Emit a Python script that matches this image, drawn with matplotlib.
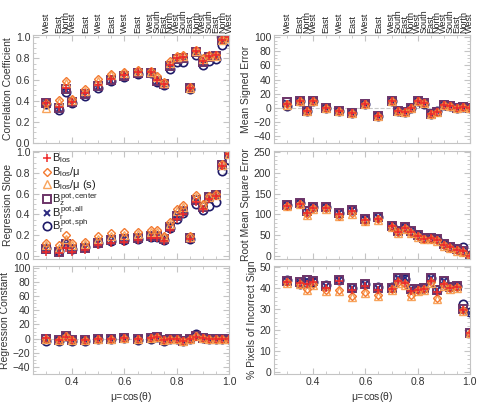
import matplotlib
matplotlib.use('Agg')
import matplotlib.pyplot as plt
from matplotlib.ticker import MultipleLocator
import matplotlib.transforms as mtransforms

plt.rcParams['font.family'] = ['Liberation Sans', 'DejaVu Sans']
plt.rcParams['mathtext.fontset'] = 'custom'
plt.rcParams['mathtext.rm'] = 'Liberation Sans'
plt.rcParams['mathtext.it'] = 'Liberation Sans'
plt.rcParams['mathtext.bf'] = 'Liberation Sans:bold'

# observing positions (mu) and their limb labels
mu = [0.3, 0.35, 0.375, 0.4, 0.45, 0.5, 0.55, 0.6, 0.65, 0.7, 0.725, 0.75,
      0.775, 0.8, 0.825, 0.85, 0.875, 0.9, 0.925, 0.95, 0.975, 1.0]
pos_labels = ['West', 'East', 'North', 'West', 'East', 'West', 'East', 'West', 'East',
              'West', 'South', 'East', 'North', 'West', 'South', 'East', 'North', 'West',
              'South', 'East', 'North', 'West']

series_names = [r'$B_{\rm los}$', r'$B_{\rm los}/\mu$', r'$B_{\rm los}/\mu$ (s)',
                r'$B_z^{\rm pot,center}$', r'$B_r^{\rm pot,all}$', r'$B_r^{\rm pot,sph}$']

# Correlation coefficient
cc_los = [0.38, 0.34, 0.52, 0.39, 0.47, 0.55, 0.61, 0.64, 0.67, 0.67, 0.60, 0.56, 0.74, 0.80, 0.81, 0.52, 0.87, 0.78, 0.82, 0.83, 0.97, 1.00]
cc_mu = [0.38, 0.41, 0.59, 0.42, 0.51, 0.61, 0.65, 0.67, 0.69, 0.68, 0.63, 0.58, 0.78, 0.82, 0.83, 0.53, 0.88, 0.80, 0.83, 0.83, 0.98, 1.00]
cc_mus = [0.33, 0.39, 0.57, 0.41, 0.49, 0.59, 0.64, 0.66, 0.68, 0.67, 0.62, 0.57, 0.76, 0.81, 0.82, 0.52, 0.87, 0.79, 0.82, 0.82, 0.97, 0.99]
cc_z = [0.38, 0.33, 0.51, 0.39, 0.46, 0.54, 0.60, 0.63, 0.66, 0.66, 0.59, 0.56, 0.73, 0.79, 0.80, 0.52, 0.86, 0.77, 0.81, 0.82, 0.97, 1.00]
cc_rall = [0.37, 0.32, 0.50, 0.38, 0.45, 0.53, 0.59, 0.62, 0.65, 0.66, 0.58, 0.55, 0.72, 0.78, 0.79, 0.51, 0.85, 0.76, 0.80, 0.81, 0.96, 0.98]
cc_rsph = [0.37, 0.31, 0.48, 0.38, 0.44, 0.52, 0.59, 0.62, 0.65, 0.66, 0.58, 0.55, 0.70, 0.77, 0.77, 0.51, 0.83, 0.74, 0.78, 0.79, 0.93, 0.96]

# Regression slope
rs_los = [0.04, 0.03, 0.08, 0.04, 0.06, 0.10, 0.12, 0.13, 0.15, 0.17, 0.17, 0.14, 0.25, 0.36, 0.40, 0.16, 0.52, 0.45, 0.55, 0.58, 0.87, 0.98]
rs_mu = [0.12, 0.10, 0.20, 0.12, 0.13, 0.19, 0.22, 0.23, 0.23, 0.25, 0.25, 0.19, 0.33, 0.45, 0.49, 0.19, 0.59, 0.50, 0.58, 0.60, 0.89, 0.99]
rs_mus = [0.10, 0.08, 0.16, 0.10, 0.11, 0.16, 0.19, 0.20, 0.21, 0.23, 0.23, 0.18, 0.31, 0.43, 0.47, 0.18, 0.57, 0.49, 0.57, 0.59, 0.88, 0.98]
rs_z = [0.07, 0.04, 0.11, 0.07, 0.08, 0.12, 0.15, 0.16, 0.17, 0.19, 0.19, 0.16, 0.28, 0.38, 0.43, 0.17, 0.54, 0.47, 0.57, 0.59, 0.88, 0.98]
rs_rall = [0.07, 0.05, 0.11, 0.07, 0.08, 0.12, 0.14, 0.16, 0.17, 0.19, 0.19, 0.16, 0.28, 0.38, 0.43, 0.17, 0.53, 0.46, 0.56, 0.58, 0.86, 0.96]
rs_rsph = [0.08, 0.05, 0.11, 0.07, 0.09, 0.12, 0.14, 0.15, 0.16, 0.18, 0.18, 0.15, 0.27, 0.36, 0.41, 0.16, 0.50, 0.44, 0.48, 0.52, 0.82, 0.92]

# Regression constant
rc_los = [1, -2, 2, -2, -2, 0, 0, 1, -1, 1, 2, -2, 0, -1, -3, 0, 2, 1, -1, 0, 0, -1]
rc_mu = [-1, -2, 3, -2, -2, 0, 0, 1, -1, 1, 2, -2, 0, -1, -3, 0, 3, 1, -1, 0, 0, -1]
rc_mus = [-1, -2, 3, -2, -2, 0, 0, 1, -1, 1, 2, -2, 0, -1, -3, 0, 3, 1, -1, 0, 0, -1]
rc_z = [-1, -2, 3, -2, -2, 0, 0, 1, -1, 1, 2, -2, 0, -1, -3, 0, 3, 1, -1, 0, 0, -1]
rc_rall = [-2, -2, 3, -2, -2, 0, 0, 1, -1, 1, 2, -2, 0, -1, -3, 0, 4, 1, -1, 0, 0, -1]
rc_rsph = [-3, -3, 4, -3, -3, -1, 0, 1, -2, 0, 2, -3, 0, -1, -4, -1, 6, 1, -1, 0, 0, -1]

# Mean signed error
ms_los = [5, 9, -5, 10, 0, -4, -7, 6, -11, 9, -4, -6, -1, 9, 7, -9, -6, 4, 2, -1, 1, 0]
ms_mu = [5, 9, -5, 9, 0, -4, -7, 6, -11, 9, -4, -6, -1, 9, 7, -9, -6, 4, 2, -1, 1, 0]
ms_mus = [4, 9, -5, 9, 0, -4, -7, 6, -11, 9, -4, -6, -1, 9, 7, -9, -6, 4, 2, -1, 1, 0]
ms_z = [8, 9, -5, 10, 0, -4, -7, 6, -11, 9, -4, -6, -1, 9, 7, -9, -6, 4, 2, -1, 1, 0]
ms_rall = [7, 9, -5, 10, 0, -4, -7, 6, -11, 9, -4, -6, -1, 9, 7, -9, -5, 4, 2, -1, 1, 0]
ms_rsph = [3, 9, -5, 9, 0, -4, -7, 5, -11, 9, -4, -6, -1, 9, 6, -9, -4, 4, 2, -1, 1, 0]

# Root mean square error
rm_los = [121, 126, 104, 115, 116, 100, 107, 87, 90, 71, 58, 68, 57, 48, 42, 43, 39, 27, 21, 15, 11, 0]
rm_mu = [121, 126, 100, 115, 116, 97, 104, 85, 88, 70, 57, 67, 56, 47, 41, 42, 38, 26, 20, 14, 10, 0]
rm_mus = [119, 124, 98, 113, 114, 95, 102, 83, 86, 69, 56, 66, 55, 46, 40, 41, 37, 25, 19, 13, 9, 0]
rm_z = [123, 128, 108, 117, 118, 104, 110, 90, 93, 72, 59, 69, 59, 50, 44, 44, 41, 28, 22, 16, 13, 1]
rm_rall = [123, 128, 108, 117, 118, 104, 110, 90, 93, 72, 59, 69, 59, 50, 44, 44, 41, 28, 22, 16, 13, 2]
rm_rsph = [123, 128, 109, 117, 118, 104, 111, 90, 93, 72, 59, 69, 59, 50, 44, 44, 41, 28, 22, 16, 22, 2]

# % pixels of incorrect sign
ps_los = [43, 42.5, 42, 43, 40, 43.5, 39, 41, 39, 39.5, 43.5, 42.5, 38.5, 39, 39.5, 43.5, 38, 42, 40, 40.5, 29.5, 18.8]
ps_mu = [43, 42, 39.5, 42, 39, 39, 36.5, 38, 37, 39.5, 43, 42, 37, 39, 39.5, 43, 35.5, 41.5, 40, 40.5, 29.5, 18.8]
ps_mus = [42.5, 42, 39, 41.5, 38.5, 38.5, 36, 37.5, 36.5, 39, 42.5, 41.5, 36.5, 38.5, 39, 42.5, 35, 41, 39.5, 40, 29, 18.5]
ps_z = [43.5, 43, 44, 43.5, 41, 44, 40, 42, 40, 40, 45, 45, 39.5, 39.5, 40, 45, 39, 43.5, 40.5, 41, 30, 18.8]
ps_rall = [43.5, 43, 44, 43.5, 41, 44, 40, 42, 40, 40, 45, 45, 39.5, 39.5, 40, 45, 39, 43.5, 40.5, 41, 29, 28]
ps_rsph = [44, 42, 42.5, 43, 41.5, 44, 40, 42, 40.5, 40.5, 45, 44.5, 39.5, 39.5, 40, 45, 39, 43.5, 40.5, 41, 32.5, 28.6]

styles = [
    dict(marker='+', color='#ee2a2a', ms=6, mew=1.1, mfc='none'),
    dict(marker='D', color='#f47a30', ms=4.2, mew=1.0, mfc='none'),
    dict(marker='^', color='#f8a45c', ms=5.5, mew=1.0, mfc='none'),
    dict(marker='s', color='#6c3468', ms=5.8, mew=1.4, mfc='none'),
    dict(marker='x', color='#2c2a80', ms=5, mew=1.4, mfc='none'),
    dict(marker='o', color='#1e1a68', ms=6, mew=1.2, mfc='none'),
]

panels = [
    ([cc_los, cc_mu, cc_mus, cc_z, cc_rall, cc_rsph], 'Correlation Coefficient', (0, 1.02), 0.2, 0.05, False),
    ([rs_los, rs_mu, rs_mus, rs_z, rs_rall, rs_rsph], 'Regression Slope', (-0.03, 1.01), 0.2, 0.05, False),
    ([rc_los, rc_mu, rc_mus, rc_z, rc_rall, rc_rsph], 'Regression Constant', (-50, 102), 20, 5, True),
    ([ms_los, ms_mu, ms_mus, ms_z, ms_rall, ms_rsph], 'Mean Signed Error', (-50, 103), 20, 5, True),
    ([rm_los, rm_mu, rm_mus, rm_z, rm_rall, rm_rsph], 'Root Mean Square Error', (-7, 252), 50, 10, False),
    ([ps_los, ps_mu, ps_mus, ps_z, ps_rall, ps_rsph], '% Pixels of Incorrect Sign', (-1, 50.5), 10, 2, False),
]

rects = [
    [0.069, 0.646, 0.409, 0.267], [0.069, 0.359, 0.409, 0.267], [0.069, 0.074, 0.409, 0.267],
    [0.572, 0.646, 0.409, 0.267], [0.572, 0.359, 0.409, 0.267], [0.572, 0.074, 0.409, 0.267],
]

# legend row heights (axes fraction) in the slope panel
legend_rows = [0.935, 0.808, 0.694, 0.556, 0.426, 0.306]

fig = plt.figure(figsize=(4.79, 4.04), dpi=100)
edge = '#c4c4c4'

for i, (data, ylab, ylim, major, minor, zero_line) in enumerate(panels):
    ax = fig.add_axes(rects[i])
    if zero_line:
        ax.axhline(0, color='#c8c8c8', lw=0.8, ls='--', zorder=0)
    # draw in reverse order so the B_los crosses end up on top
    for k in range(5, -1, -1):
        ax.plot(mu, data[k], ls='none', **styles[k])
    ax.set_xlim(0.25, 1.0)
    ax.set_ylim(*ylim)
    ax.xaxis.set_major_locator(MultipleLocator(0.2))
    ax.xaxis.set_minor_locator(MultipleLocator(0.05))
    ax.yaxis.set_major_locator(MultipleLocator(major))
    ax.yaxis.set_minor_locator(MultipleLocator(minor))
    ax.tick_params(which='both', direction='in', top=True, right=True, color=edge,
                   labelsize=7.5, labelcolor='#333333', pad=2)
    ax.tick_params(which='major', length=4)
    ax.tick_params(which='minor', length=2)
    for sp in ax.spines.values():
        sp.set_color(edge)
    ax.set_ylabel(ylab, fontsize=7.5, color='#333333', labelpad=2)
    if i in (2, 5):
        ax.set_xlabel(r'$\mu$=cos($\theta$)', fontsize=7.5, color='#333333', labelpad=2)
    else:
        ax.tick_params(labelbottom=False)
    if i in (0, 3):
        trans = mtransforms.blended_transform_factory(ax.transData, ax.transAxes)
        for x, lab in zip(mu, pos_labels):
            ax.text(x, 1.02, lab, rotation=90, ha='center', va='bottom', fontsize=6.5,
                    color='#222222', transform=trans)
    if i == 1:
        # hand-placed legend rows
        for k, yk in enumerate(legend_rows):
            ax.plot([0.072], [yk], ls='none', transform=ax.transAxes, clip_on=False, **styles[k])
            ax.text(0.098, yk - 0.033, series_names[k], transform=ax.transAxes,
                    fontsize=8, color='#222222', va='baseline', ha='left')

fig.savefig('out.png', dpi=100)
